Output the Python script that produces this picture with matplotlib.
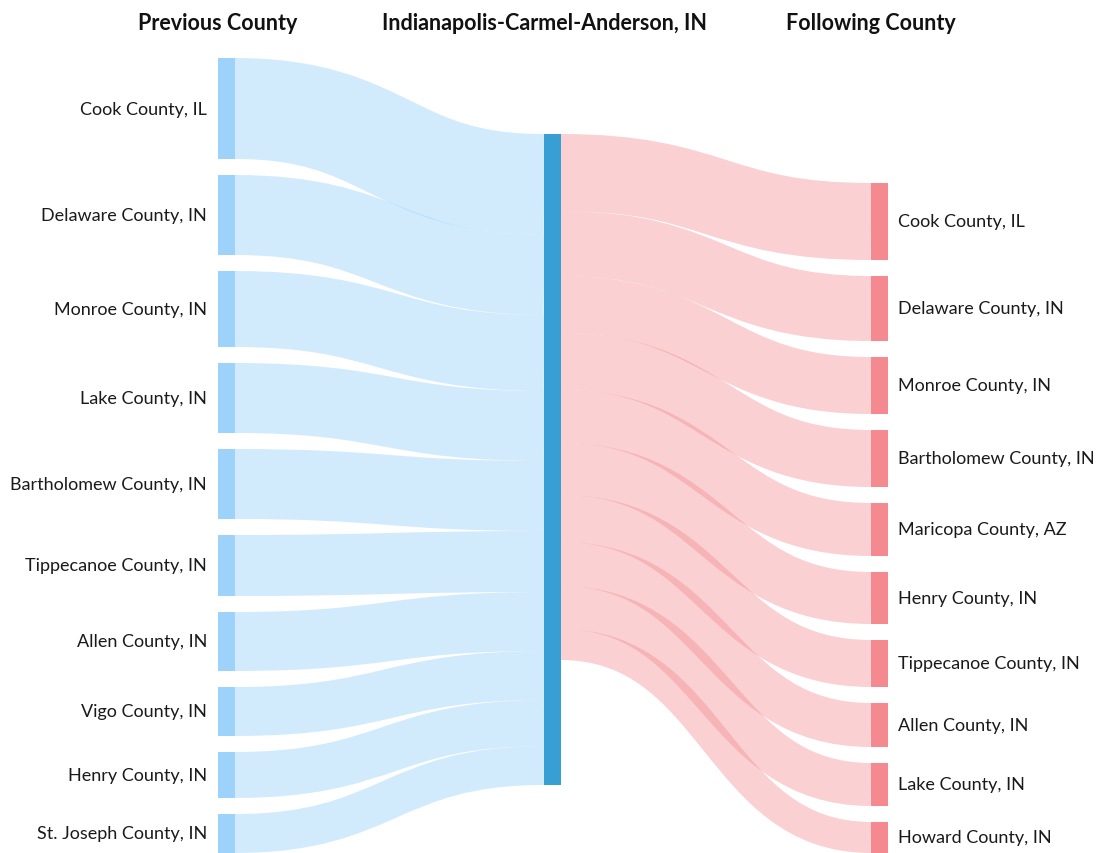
import matplotlib
matplotlib.use("Agg")
import matplotlib.pyplot as plt
from matplotlib.path import Path
from matplotlib.patches import PathPatch, Rectangle

# columns of the sankey
previous_counties = ["Cook County, IL", "Delaware County, IN", "Monroe County, IN", "Lake County, IN",
                     "Bartholomew County, IN", "Tippecanoe County, IN", "Allen County, IN",
                     "Vigo County, IN", "Henry County, IN", "St. Joseph County, IN"]
previous_values = [101, 80, 76, 70, 70, 61, 59, 49, 46, 39]

metro_name = "Indianapolis-Carmel-Anderson, IN"

following_counties = ["Cook County, IL", "Delaware County, IN", "Monroe County, IN",
                      "Bartholomew County, IN", "Maricopa County, AZ", "Henry County, IN",
                      "Tippecanoe County, IN", "Allen County, IN", "Lake County, IN",
                      "Howard County, IN"]
following_values = [77, 65, 57, 57, 53, 52, 47, 44, 43, 31]

headers = ["Previous County", metro_name, "Following County"]

W, H, DPI = 1097, 854, 100
TOP, BOTTOM = 59, 854
NODE_W = 16.5
X_LEFT, X_MID, X_RIGHT = 218, 544, 871
MID_TOP = 135

LEFT_NODE = "#9dd3fa"
MID_NODE = "#379fd3"
RIGHT_NODE = "#f48a90"

plt.rcParams['font.family'] = ['Lato', 'DejaVu Sans']

fig = plt.figure(figsize=(W / DPI, H / DPI), dpi=DPI)
ax = fig.add_axes([0, 0, 1, 1])
ax.set_xlim(0, W)
ax.set_ylim(H, 0)
ax.axis("off")

n = len(previous_values)
ky = 1.0
pad = (BOTTOM - TOP - sum(previous_values) * ky) / (n - 1)


def stack(values, start):
    pos = []
    y = start
    for v in values:
        pos.append((y, y + v * ky))
        y += v * ky + pad
    return pos


left_pos = stack(previous_values, TOP)
right_start = BOTTOM - (sum(following_values) * ky + pad * (len(following_values) - 1))
right_pos = stack(following_values, right_start)
mid_h = sum(previous_values) * ky


def link(x0, y0, x1, y1, w, color, alpha):
    xm = (x0 + x1) / 2
    p = Path([(x0, y0), (xm, y0), (xm, y1), (x1, y1)],
             [Path.MOVETO, Path.CURVE4, Path.CURVE4, Path.CURVE4])
    ax.add_patch(PathPatch(p, fill=False, edgecolor=color, alpha=alpha,
                           linewidth=w * 72 / DPI, capstyle="butt", zorder=1))


# incoming links
y_in = MID_TOP
for (a, b), v in zip(left_pos, previous_values):
    w = v * ky
    link(X_LEFT + NODE_W, (a + b) / 2, X_MID, y_in + w / 2, w, LEFT_NODE, 0.45)
    y_in += w

# outgoing links
y_out = MID_TOP
for (a, b), v in zip(right_pos, following_values):
    w = v * ky
    link(X_MID + NODE_W, y_out + w / 2, X_RIGHT, (a + b) / 2, w, RIGHT_NODE, 0.4)
    y_out += w

# nodes and labels
for (a, b), name in zip(left_pos, previous_counties):
    ax.add_patch(Rectangle((X_LEFT, a), NODE_W, b - a, color=LEFT_NODE, zorder=2, lw=0))
    ax.text(X_LEFT - 11, (a + b) / 2, name, ha="right", va="center", fontsize=13, color="#1a1a1a")

ax.add_patch(Rectangle((X_MID, MID_TOP), NODE_W, mid_h, color=MID_NODE, zorder=2, lw=0))

for (a, b), name in zip(right_pos, following_counties):
    ax.add_patch(Rectangle((X_RIGHT, a), NODE_W, b - a, color=RIGHT_NODE, zorder=2, lw=0))
    ax.text(X_RIGHT + NODE_W + 11, (a + b) / 2, name, ha="left", va="center", fontsize=13, color="#1a1a1a")

for x, h in zip([X_LEFT, X_MID, X_RIGHT], headers):
    ax.text(x, 23, h, ha="center", va="center", fontsize=15.5, fontweight="bold", color="#111111")

fig.savefig("out.png", dpi=DPI)
